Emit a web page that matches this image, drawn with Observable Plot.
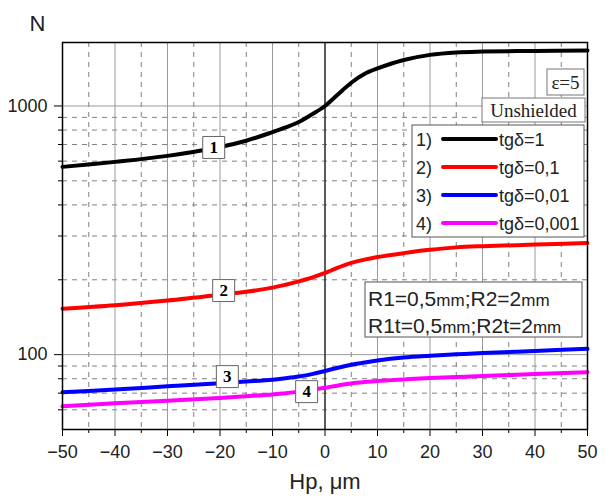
<!DOCTYPE html>
<html>
<head>
<meta charset="utf-8">
<script src="https://cdn.jsdelivr.net/npm/d3@7"></script>
<script src="https://cdn.jsdelivr.net/npm/@observablehq/plot@0.6"></script>
<style>
  html, body { margin: 0; padding: 0; background: #fff; }
  #chart { width: 605px; height: 501px; }
</style>
</head>
<body>
<div id="chart"></div>
<script>
// ---- data ----
const hp = [-50, -40, -30, -20, -15, -10, -7.5, -5, -2.5, 0, 2.5, 5, 7.5, 10, 15, 20, 25, 30, 40, 50];
const tg1 = [569, 596, 630, 684, 725, 785, 820, 862, 925, 1000, 1115, 1240, 1345, 1415, 1530, 1605, 1642, 1655, 1665, 1673];
const tg01 = [153, 158, 165, 174, 179, 186, 191, 197, 204, 213, 224, 234, 241, 247, 256, 264, 270, 273, 277, 281];
const tg001 = [70.6, 72.4, 74.6, 76.8, 78, 79.3, 80.4, 81.7, 83.5, 86, 88.6, 91, 93, 94.8, 97.4, 99, 100.3, 101.5, 103.5, 105.5];
const tg0001 = [62, 63.8, 65.2, 67, 68, 69.1, 70, 71, 72.2, 73.6, 75.2, 76.6, 77.6, 78.4, 79.5, 80.5, 81.3, 82, 83.5, 85];

const seriesNames = ["tgδ=1", "tgδ=0,1", "tgδ=0,01", "tgδ=0,001"];
const seriesColors = ["#000000", "#ff0000", "#0000ff", "#ff00ff"];
const seriesValues = [tg1, tg01, tg001, tg0001];

// curve number labels (position on each curve)
const labelNums = ["1", "2", "3", "4"];
const labelX = [-21.2, -19.3, -18.6, -3.5];
const labelY = [681, 181, 81.6, 71];

// ticks
const xMajor = [-50, -40, -30, -20, -10, 0, 10, 20, 30, 40, 50];
const xMinor = [-45, -35, -25, -15, -5, 5, 15, 25, 35, 45];
const yMajor = [100, 1000];
const yMinor = [60, 70, 80, 90, 200, 300, 400, 500, 600, 700, 800, 900];

const xLabel = "Hp, μm";
const yLabel = "N";

// ---- build ----
const rows = [];
seriesValues.forEach((vals, i) => vals.forEach((v, j) => rows.push({x: hp[j], v, s: i})));
const labels = labelNums.map((t, i) => ({t, x: labelX[i], y: labelY[i]}));

const gridGray = "#9a9a9a";
const dashGray = "#808080";

const chart = Plot.plot({
  width: 605,
  height: 501,
  marginLeft: 62,
  marginRight: 18,
  marginTop: 42,
  marginBottom: 72,
  style: {fontFamily: "'Liberation Sans', Arial, sans-serif", fontSize: "18px", background: "#fff", color: "#222"},
  x: {domain: [-50, 50]},
  y: {type: "log", domain: [50, 1800]},
  marks: [
    Plot.ruleX(xMinor, {stroke: dashGray, strokeWidth: 1, strokeDasharray: "5,5"}),
    Plot.ruleY(yMinor, {stroke: dashGray, strokeWidth: 1, strokeDasharray: "5,5"}),
    Plot.ruleX(xMajor.filter(d => d !== 0), {stroke: gridGray, strokeWidth: 1}),
    Plot.ruleY(yMajor, {stroke: gridGray, strokeWidth: 1}),
    Plot.ruleX([0], {stroke: "#333", strokeWidth: 1.6}),
    ...seriesValues.map((_, i) => Plot.line(rows.filter(r => r.s === i), {
      x: "x", y: "v", stroke: seriesColors[i], strokeWidth: 4, curve: "catmull-rom"
    })),
    Plot.dot(labels, {x: "x", y: "y", symbol: "square", r: 12.4, fill: "white", stroke: "#666", strokeWidth: 1}),
    Plot.text(labels, {x: "x", y: "y", text: "t", fontFamily: "'Liberation Serif', 'Times New Roman', serif", fontWeight: "bold", fontSize: 17, fill: "#000"}),
    Plot.axisX(xMajor, {tickSize: 7, tickPadding: 9, label: null, stroke: "#000", fill: "#222"}),
    Plot.axisX(xMinor, {tickSize: 4, tickFormat: () => "", label: null, stroke: "#000"}),
    Plot.axisY(yMajor, {tickSize: 8, tickPadding: 7, label: null, tickFormat: d => String(d), stroke: "#000", fill: "#222"}),
    Plot.axisY(yMinor, {tickSize: 4, tickFormat: () => "", label: null, stroke: "#000"}),
    Plot.frame({stroke: "#000", strokeWidth: 1.5}),
    Plot.text([xLabel], {frameAnchor: "bottom", dy: 59, fontSize: 22, fill: "#222"}),
    Plot.text([yLabel], {frameAnchor: "top-left", dx: -33, dy: -27, fontSize: 22, fill: "#222"})
  ]
});
document.getElementById("chart").appendChild(chart);

// ---- annotation boxes and legend (pixel layout) ----
const svg = d3.select(chart);
const g = svg.append("g").attr("text-anchor", "start");
const serif = "'Liberation Serif', 'Times New Roman', serif";
const sans = "'Liberation Sans', Arial, sans-serif";

// ε=5 box
g.append("rect").attr("x", 547).attr("y", 69).attr("width", 37).attr("height", 26)
  .attr("fill", "white").attr("stroke", "#777");
g.append("text").attr("x", 565.5).attr("y", 88.5).attr("text-anchor", "middle")
  .attr("font-family", serif).attr("font-size", 19).attr("fill", "#222").text("ε=5");

// Unshielded box
g.append("rect").attr("x", 482).attr("y", 98).attr("width", 103).attr("height", 24)
  .attr("fill", "white").attr("stroke", "#777");
g.append("text").attr("x", 533.5).attr("y", 116.5).attr("text-anchor", "middle")
  .attr("font-family", serif).attr("font-size", 19).attr("fill", "#222").text("Unshielded");

// legend
g.append("rect").attr("x", 412).attr("y", 125).attr("width", 172).attr("height", 112)
  .attr("fill", "white").attr("stroke", "#555");
const rowY = [139, 167, 195, 223];
seriesNames.forEach((name, i) => {
  const y = rowY[i];
  g.append("text").attr("x", 416).attr("y", y + 6.5).attr("text-anchor", "start")
    .attr("font-family", sans).attr("font-size", 18).attr("fill", "#222").text((i + 1) + ")");
  g.append("line").attr("x1", 443).attr("x2", 496).attr("y1", y).attr("y2", y)
    .attr("stroke", seriesColors[i]).attr("stroke-width", 4).attr("stroke-linecap", "round");
  g.append("text").attr("x", 499).attr("y", y + 6.5).attr("text-anchor", "start")
    .attr("font-family", sans).attr("font-size", 18).attr("fill", "#222").text(name);
});

// R box
g.append("rect").attr("x", 365).attr("y", 282).attr("width", 217).attr("height", 55)
  .attr("fill", "white").attr("stroke", "#555");
const rLines = [["R1=0,5", "mm", ";R2=2", "mm"], ["R1t=0,5", "mm", ";R2t=2", "mm"]];
const rBase = [306, 333];
rLines.forEach((parts, k) => {
  const t = g.append("text").attr("x", 368).attr("y", rBase[k]).attr("text-anchor", "start")
    .attr("font-family", sans).attr("font-size", 21).attr("fill", "#222");
  parts.forEach((p, j) => {
    t.append("tspan").attr("font-size", j % 2 ? 17 : 21).text(p);
  });
});
</script>
</body>
</html>
